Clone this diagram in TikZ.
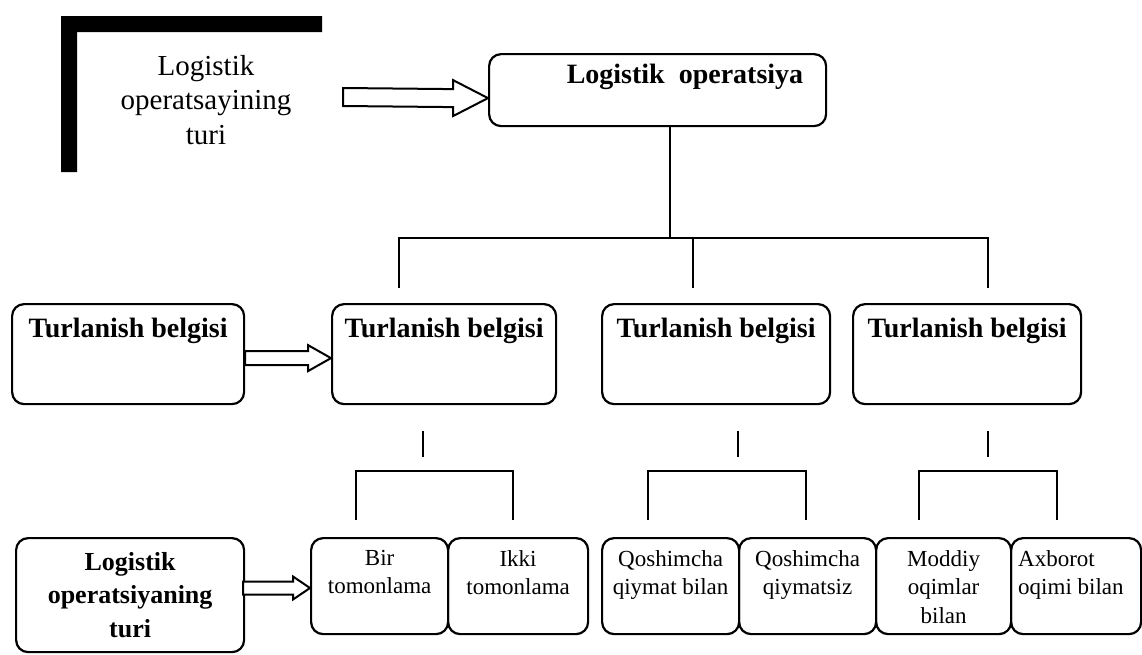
\documentclass[tikz,border=0pt]{standalone}
\usepackage{fontspec}
\setmainfont{Liberation Serif}
\usetikzlibrary{calc}
\newcommand\hollowarr[5]{%
  \draw[harrow] ($(#1)+(0,-#3)$) -- ($(#2)+(-#5,-#3)$) -- ($(#2)+(-#5,-#4)$) -- (#2)
    -- ($(#2)+(-#5,#4)$) -- ($(#2)+(-#5,#3)$) -- ($(#1)+(0,#3)$) -- cycle;}
\begin{document}
\begin{tikzpicture}[x=1pt,y=-1pt,
  box/.style={draw, line width=2.2pt, rounded corners=12pt, inner sep=0pt, anchor=north west},
  conn/.style={line width=2.6pt},
  harrow/.style={draw, line width=2pt, fill=white, line join=miter},
  headtxt/.style={font=\bfseries\fontsize{28}{34}\selectfont, inner sep=0pt, anchor=base},
  smalltxt/.style={font=\fontsize{23}{28.5}\selectfont, inner sep=0pt, align=center, anchor=north},
]
\useasboundingbox (0,0) rectangle (1142,654);

% thick corner mark
\fill (61,16) -- (322,16) -- (322,32) -- (77,32) -- (77,172) -- (61,172) -- cycle;
\node[font=\fontsize{29}{34.5}\selectfont, align=center, anchor=north, inner sep=0pt] (lt) at (206,55) {Logistik\\operatsayining\\turi};

% top box
\node[box, minimum width=337pt, minimum height=72pt] (top) at (488,53) {};
\node[headtxt] (toptxt) at (685,83) {Logistik\ \ operatsiya};
\coordinate (a1s) at (343,97);
\coordinate (a1e) at ($(top.west)+(0,8)$);
\hollowarr{a1s}{a1e}{9}{18}{35}

% row 2 boxes
\node[box, minimum width=232pt, minimum height=100pt] (b1) at (11,303) {};
\node[box, minimum width=224pt, minimum height=100pt] (b2) at (331,303) {};
\node[box, minimum width=228pt, minimum height=100pt] (b3) at (601,303) {};
\node[box, minimum width=228pt, minimum height=100pt] (b4) at (852,303) {};
\node[headtxt] (t1) at ($(b1.north)+(0,34)$) {Turlanish belgisi};
\node[headtxt] (t2) at ($(b2.north)+(0,34)$) {Turlanish belgisi};
\node[headtxt] (t3) at ($(b3.north)+(0,34)$) {Turlanish belgisi};
\node[headtxt] (t4) at ($(b4.north)+(0,34)$) {Turlanish belgisi};
\coordinate (a2s) at ($(b1.east)+(0,4)$);
\coordinate (a2e) at ($(b2.west)+(0,4)$);
\hollowarr{a2s}{a2e}{7}{13}{23}

% tree connectors
\coordinate (j) at (670,238);
\coordinate (d2) at (399,238);
\coordinate (d3) at (693,238);
\coordinate (d4) at (988,238);
\draw[conn] (top.south -| j) -- (j);
\draw[conn] ($(d2)+(0,50)$) -- (d2) -- (d4) -- ($(d4)+(0,50)$);
\draw[conn] (d3) -- ($(d3)+(0,50)$);

% ticks
\coordinate (k2) at (423,431);
\coordinate (k3) at (738,431);
\coordinate (k4) at (988,431);
\draw[conn] (k2) -- ($(k2)+(0,26)$);
\draw[conn] (k3) -- ($(k3)+(0,26)$);
\draw[conn] (k4) -- ($(k4)+(0,26)$);

% brackets
\draw[conn] (356,520) -- (356,471) -- (513,471) -- (513,520);
\draw[conn] (648,520) -- (648,471) -- (806,471) -- (806,520);
\draw[conn] (919,520) -- (919,471) -- (1057,471) -- (1057,520);

% bottom row
\node[box, minimum width=228pt, minimum height=114pt] (lb) at (15,537) {};
\node[font=\bfseries\fontsize{26}{33.5}\selectfont, align=center, anchor=north, inner sep=0pt] (lbt) at ($(lb.north)+(0,15)$) {Logistik\\operatsiyaning\\turi};
\node[box, minimum width=137pt, minimum height=96pt] (bir) at (310,537) {};
\node[box, minimum width=140pt, minimum height=96pt] (ikki) at (447,537) {};
\node[box, minimum width=137pt, minimum height=96pt] (q1) at (601,537) {};
\node[box, minimum width=137pt, minimum height=96pt] (q2) at (738,537) {};
\node[box, minimum width=135pt, minimum height=96pt] (mod) at (875,537) {};
\node[box, minimum width=130pt, minimum height=96pt] (axb) at (1010,537) {};
\node[smalltxt] (birt) at ($(bir.north)+(0,13)$) {Bir\\tomonlama};
\node[smalltxt] (ikkit) at ($(ikki.north)+(0,13)$) {Ikki\\tomonlama};
\node[smalltxt] (q1t) at ($(q1.north)+(0,13)$) {Qoshimcha\\qiymat bilan};
\node[smalltxt] (q2t) at ($(q2.north)+(0,13)$) {Qoshimcha\\qiymatsiz};
\node[smalltxt] (modt) at ($(mod.north)+(0,13)$) {Moddiy\\oqimlar\\bilan};
\node[smalltxt, align=left, anchor=north west] (axbt) at ($(axb.north west)+(8,13)$) {Axborot\\oqimi bilan};
\coordinate (a3s) at (243,588);
\coordinate (a3e) at (310,588);
\hollowarr{a3s}{a3e}{6.5}{11.5}{17}
\end{tikzpicture}
\end{document}
